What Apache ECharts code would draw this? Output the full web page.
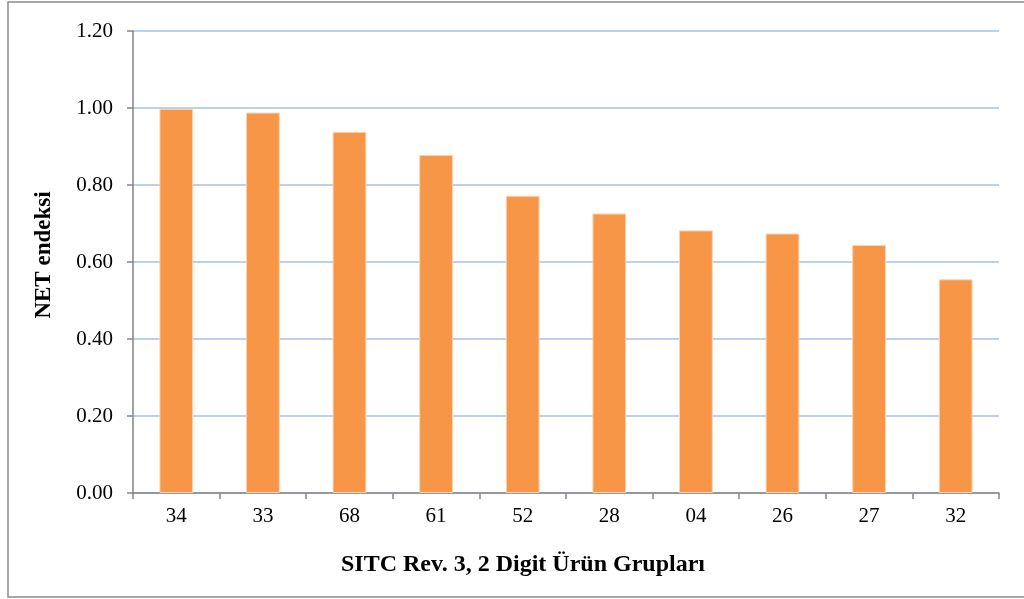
<!DOCTYPE html>
<html>
<head>
<meta charset="utf-8">
<script src="https://cdn.jsdelivr.net/npm/echarts@6/dist/echarts.min.js"></script>
<style>
  html, body { margin: 0; padding: 0; background: #ffffff; }
  #chart { width: 1024px; height: 599px; }
</style>
</head>
<body>
<div id="chart"></div>
<script>
// SITC Rev. 3 two-digit product groups and their NET index values
const categories = ['34', '33', '68', '61', '52', '28', '04', '26', '27', '32'];
const netIndex = [0.998, 0.988, 0.938, 0.878, 0.772, 0.726, 0.682, 0.674, 0.644, 0.555];
const yTitle = 'NET endeksi';
const xTitle = 'SITC Rev. 3, 2 Digit Ürün Grupları';

const serif = '"Liberation Serif", "Times New Roman", serif';
const chart = echarts.init(document.getElementById('chart'), null, { renderer: 'canvas' });

chart.setOption({
  animation: false,
  backgroundColor: '#ffffff',
  grid: { left: 133, top: 31, right: 25, bottom: 106, containLabel: false },
  graphic: [
    {
      type: 'rect',
      shape: { x: 8, y: 2, width: 1030, height: 595 },
      style: { fill: 'none', stroke: '#8c8c8c', lineWidth: 1.5 },
      silent: true, z: -1
    },
    {
      type: 'text',
      x: 44, y: 255,
      rotation: Math.PI / 2,
      style: {
        text: yTitle, fontFamily: serif, fontWeight: 'bold', fontSize: 23,
        fill: '#000000', align: 'center', verticalAlign: 'middle'
      }
    },
    {
      type: 'text',
      x: 523, y: 565,
      style: {
        text: xTitle, fontFamily: serif, fontWeight: 'bold', fontSize: 24,
        fill: '#000000', align: 'center', verticalAlign: 'middle'
      }
    }
  ],
  xAxis: {
    type: 'category',
    data: categories,
    boundaryGap: true,
    axisLine: { show: true, lineStyle: { color: '#868686', width: 1.5 } },
    axisTick: { show: true, alignWithLabel: false, length: 6, lineStyle: { color: '#868686', width: 1.5 } },
    axisLabel: { color: '#000000', fontFamily: serif, fontSize: 21, margin: 13 },
    splitLine: { show: false }
  },
  yAxis: {
    type: 'value',
    min: 0, max: 1.2, interval: 0.2,
    axisLine: { show: true, lineStyle: { color: '#868686', width: 1.5 } },
    axisTick: { show: true, length: 6, lineStyle: { color: '#868686', width: 1.5 } },
    axisLabel: {
      color: '#000000', fontFamily: serif, fontSize: 21, margin: 20,
      formatter: v => v.toFixed(2)
    },
    splitLine: { show: true, lineStyle: { color: '#A9C1E4', width: 1.5 } }
  },
  series: [{
    type: 'bar',
    data: netIndex,
    barWidth: '39%',
    itemStyle: { color: '#F79646', borderColor: '#FBD3B3', borderWidth: 1 },
    z: 3
  }]
});
</script>
</body>
</html>
